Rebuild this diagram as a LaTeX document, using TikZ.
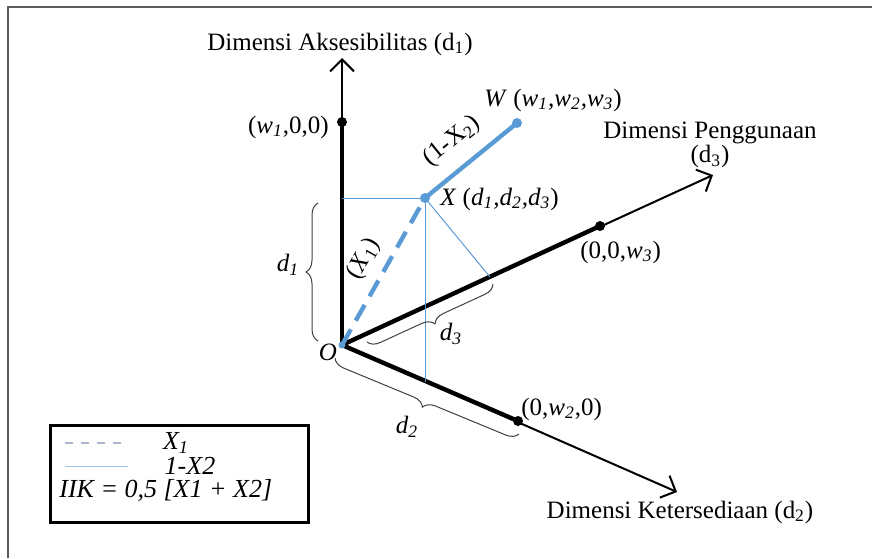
\documentclass[tikz,border=0pt]{standalone}
\usepackage{fontspec}
\setmainfont{Liberation Serif}
\usetikzlibrary{arrows.meta,decorations.pathreplacing}
\definecolor{lineblue}{RGB}{91,155,213}
\definecolor{legdash}{RGB}{170,180,200}
\definecolor{framegrey}{RGB}{90,90,90}
\newcommand{\sbi}[1]{\textsubscript{\itshape #1}}
\newcommand{\sbr}[1]{\textsubscript{#1}}
\begin{document}
\begin{tikzpicture}[x=0.5pt,y=-0.5pt,
  font=\fontsize{12.5}{15}\selectfont,
  axisthin/.style={line width=1pt,-{Straight Barb[length=6pt,width=12pt,line width=1pt]}},
  axisthick/.style={line width=2.2pt},
  bluethick/.style={lineblue,line width=2.2pt},
  bluethin/.style={lineblue,line width=0.5pt},
  bracestyle/.style={draw=black!75,line width=0.5pt,decorate,decoration={brace,amplitude=6pt}},
  blackdot/.style={circle,fill=black,inner sep=0pt,minimum size=5pt},
  bluedot/.style={circle,fill=lineblue,inner sep=0pt,minimum size=5pt},
  lbl/.style={inner sep=1pt}]
\useasboundingbox (0,0) rectangle (872,558);
% frame
\draw[framegrey,line width=1pt] (8,558) -- (8,7) -- (872,7);
% key points
\coordinate (O) at (342,345);
\coordinate (t1) at (342,58);
\coordinate (t3) at (713,175);
\coordinate (t2) at (677,492);
\node[blackdot] (p1) at (342,122) {};
\node[blackdot] (p3) at (600,226) {};
\node[blackdot] (p2) at (518,421) {};
\coordinate (Xc) at (425,198);
\coordinate (Wc) at (517,123);
\coordinate (h1) at (342,198);
\coordinate (h2) at (425,382);
\coordinate (h3) at (490,277);
% axes
\draw[axisthin] (O) -- (t1);
\draw[axisthin] (O) -- (t3);
\draw[axisthin] (O) -- (t2);
\draw[axisthick] (O) -- (p1.center);
\draw[axisthick] (O) -- (p3.center);
\draw[axisthick] (O) -- (p2.center);
% projections
\draw[bluethin] (h1) -- (Xc);
\draw[bluethin] (Xc) -- (h2);
\draw[bluethin] (Xc) -- (h3);
% vector
\draw[bluethick,dash pattern=on 9pt off 5pt] (O) -- (Xc);
\draw[bluethick] (Xc) -- (Wc);
\node[bluedot] (X) at (Xc) {};
\node[bluedot] (W) at (Wc) {};
\node[circle,fill=lineblue,inner sep=0pt,minimum size=3.5pt] (Odot) at (O) {};
% braces
\draw[bracestyle] (318,341) -- (318,203);
\draw[bracestyle] (493,284) -- (367,342);
\draw[bracestyle] (519,434) -- (335,358);
% labels
\node[lbl] (lA) at (340,44) {Dimensi Aksesibilitas (d\sbr{1})};
\node[lbl,anchor=east] (lp1) at (331,127) {(\textit{w\sbi{1}},0,0)};
\node[lbl,anchor=west] (lW) at (482,100) {\textit{W} (\textit{w\sbi{1},w\sbi{2},w\sbi{3}})};
\node[lbl,anchor=west] (lX) at (438,199) {\textit{X} (\textit{d\sbi{1},d\sbi{2},d\sbi{3}})};
\node[lbl,align=center] (lP) at (710,145) {Dimensi Penggunaan\\[-3pt](d\sbr{3})};
\node[lbl,anchor=west] (lp3) at (578,252) {(0,0,\textit{w\sbi{3}})};
\node[lbl,anchor=west] (lp2) at (519,409) {(0,\textit{w\sbi{2}},0)};
\node[lbl] (lK) at (680,512) {Dimensi Ketersediaan (d\sbr{2})};
\node[lbl] (ld1) at (288,265) {\textit{d\sbi{1}}};
\node[lbl] (ld3) at (451,334) {\textit{d\sbi{3}}};
\node[lbl] (ld2) at (407,427) {\textit{d\sbi{2}}};
\node[lbl] (lO) at (328,352) {\textit{O}};
\node[lbl,rotate=60.5] (lX1) at (364,259) {(\textit{X}\sbr{1})};
\node[lbl,rotate=39] (lX2) at (452,141) {(1-X\sbr{2})};
% legend
\draw[line width=1.5pt] (50,425) rectangle (308,522);
\coordinate (la) at (65,443);
\coordinate (lb) at (124,443);
\coordinate (lc) at (65,466);
\coordinate (ld) at (128,466);
\draw[legdash,line width=1pt,dash pattern=on 4pt off 4pt] (la) -- (lb);
\draw[lineblue!60,line width=0.5pt] (lc) -- (ld);
\begin{scope}[font=\fontsize{13}{15}\selectfont]
\node[lbl] (lg1) at (176,443) {\textit{X\sbr{1}}};
\node[lbl] (lg2) at (190,466) {\textit{1-X2}};
\node[lbl,anchor=west] (lg3) at (57,490) {\textit{IIK = 0,5 [X1 + X2]}};
\end{scope}
\end{tikzpicture}
\end{document}
